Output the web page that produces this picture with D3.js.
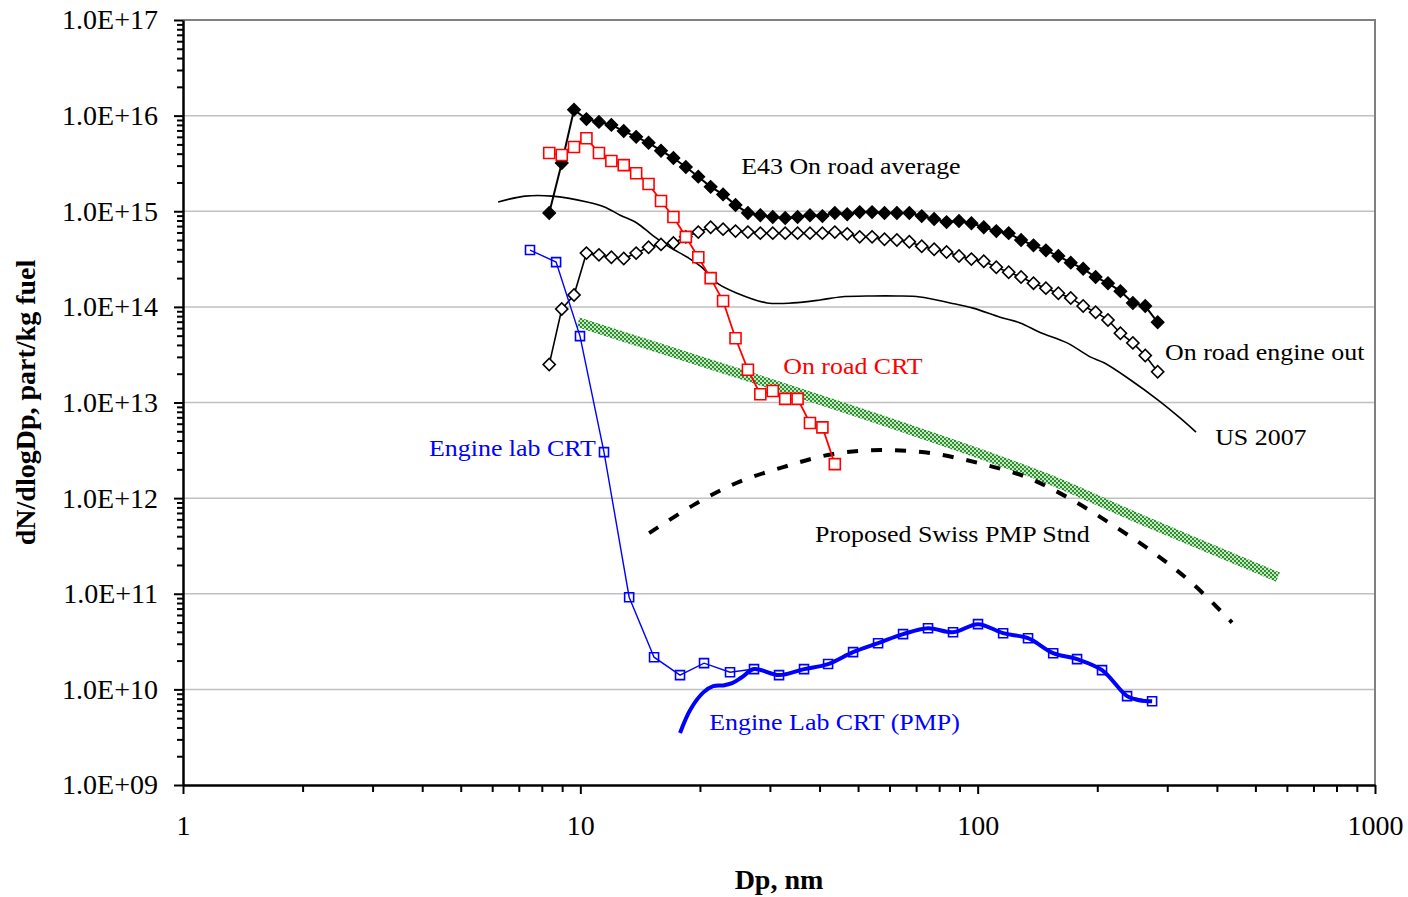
<!DOCTYPE html>
<html>
<head>
<meta charset="utf-8">
<script src="https://cdn.jsdelivr.net/npm/d3@7"></script>
<style>
	body { margin: 0; background: #fff; }
	svg text { font-family: "Liberation Serif", "Times New Roman", serif; }
</style>
</head>
<body>
<svg id="chart"></svg>
<script>
// SMPS channels (32 per decade) shared by the two on-road black series and the CRT one
var dpSmps = [8.35, 8.98, 9.64, 10.36, 11.14, 11.97, 12.86, 13.82, 14.85, 15.96,
	17.15, 18.43, 19.81, 21.28, 22.87, 24.58, 26.41, 28.38, 30.50, 32.78,
	35.22, 37.84, 40.67, 43.70, 46.96, 50.47, 54.23, 58.28, 62.62, 67.30,
	72.31, 77.71, 83.51, 89.74, 96.43, 103.6, 111.4, 119.7, 128.6, 138.2,
	148.5, 159.6, 171.5, 184.3, 198.1, 212.8, 228.7, 245.8, 264.1, 283.8];

var e43Average = [9.6e14, 3.2e15, 1.15e16, 9.2e15, 8.6e15, 8.0e15, 6.9e15, 6.0e15, 5.2e15, 4.3e15,
	3.6e15, 2.9e15, 2.3e15, 1.8e15, 1.5e15, 1.16e15, 9.6e14, 9.1e14, 8.7e14, 8.5e14,
	8.7e14, 9.1e14, 8.9e14, 9.6e14, 9.3e14, 9.8e14, 9.8e14, 9.6e14, 9.6e14, 9.6e14,
	8.9e14, 8.3e14, 7.7e14, 7.9e14, 7.5e14, 6.8e14, 6.2e14, 5.9e14, 5.0e14, 4.4e14,
	3.9e14, 3.4e14, 2.9e14, 2.5e14, 2.05e14, 1.77e14, 1.46e14, 1.10e14, 1.02e14, 6.9e13];

var engineOut = [2.5e13, 9.5e13, 1.33e14, 3.65e14, 3.5e14, 3.3e14, 3.2e14, 3.65e14, 4.2e14, 4.5e14,
	4.65e14, 5.4e14, 6.05e14, 6.8e14, 6.5e14, 6.2e14, 6.05e14, 5.9e14, 5.9e14, 5.9e14,
	5.9e14, 5.9e14, 5.9e14, 6.05e14, 5.8e14, 5.4e14, 5.4e14, 5.1e14, 5.0e14, 4.8e14,
	4.3e14, 4.0e14, 3.75e14, 3.4e14, 3.16e14, 3.0e14, 2.6e14, 2.3e14, 2.05e14, 1.77e14,
	1.57e14, 1.39e14, 1.24e14, 1.02e14, 8.8e13, 7.3e13, 5.3e13, 4.2e13, 3.1e13, 2.1e13];

var onRoadCrt = [4.06e15, 3.87e15, 4.7e15, 5.8e15, 4.06e15, 3.35e15, 3.04e15, 2.5e15, 1.93e15, 1.28e15,
	8.7e14, 5.4e14, 3.3e14, 2.0e14, 1.15e14, 4.7e13, 2.2e13, 1.22e13, 1.32e13, 1.09e13,
	1.09e13, 6.1e12, 5.5e12, 2.27e12];

// engine lab, 16 channels per decade
var dpLab = [7.47, 8.69, 9.98, 11.47, 13.27, 15.33, 17.82, 20.48, 23.81, 27.36,
	31.63, 36.56, 42.03, 48.58, 56.15, 64.9, 75.0, 86.7, 100.2, 115.9,
	133.9, 154.9, 177.9, 205.6, 237.7, 274.8];
var labCrt = [3.93e14, 2.94e14, 4.95e13, 3.03e12, 9.2e10, 2.17e10, 1.41e10, 1.88e10, 1.51e10, 1.63e10,
	1.41e10, 1.63e10, 1.84e10, 2.45e10, 3.04e10, 3.78e10, 4.36e10, 3.96e10, 4.81e10, 3.87e10,
	3.43e10, 2.39e10, 2.07e10, 1.59e10, 8.5e9, 7.5e9];

var dpPmp = [17.82, 18.9, 20.4, 21.6, 22.9, 24.1, 25.5, 27.36, 31.63, 36.56,
	42.03, 48.58, 56.15, 64.9, 75.0, 86.7, 100.2, 115.9, 133.9, 154.9,
	177.9, 205.6, 237.7, 255.0, 274.8];
var pmpCrt = [3.5e9, 6.1e9, 9.3e9, 1.08e10, 1.1e10, 1.16e10, 1.34e10, 1.63e10, 1.41e10, 1.63e10,
	1.84e10, 2.45e10, 3.04e10, 3.78e10, 4.36e10, 3.96e10, 4.81e10, 3.87e10, 3.43e10, 2.39e10,
	2.07e10, 1.59e10, 8.5e9, 7.7e9, 7.5e9];

var dpUs2007 = [6.21, 7.26, 8.49, 10.4, 11.5, 12.6, 13.9, 15.2, 16.8, 18.6,
	20.2, 22.1, 24.8, 29.5, 34.3, 40.1, 45.1, 54.2, 62.7, 71.6,
	85.2, 97.4, 113.9, 127.9, 143.6, 167.9, 191.9, 208, 243, 284.5,
	323, 354.5];
var us2007 = [1.25e15, 1.44e15, 1.44e15, 1.25e15, 1.11e15, 9.1e14, 7.5e14, 5.6e14, 4.2e14, 3.3e14,
	2.6e14, 1.77e14, 1.39e14, 1.10e14, 1.10e14, 1.18e14, 1.27e14, 1.30e14, 1.30e14, 1.27e14,
	1.10e14, 9.7e13, 7.8e13, 6.8e13, 5.4e13, 4.2e13, 3.0e13, 2.6e13, 1.71e13, 1.06e13,
	6.9e12, 4.9e12];

var dpSwiss = [14.9, 19.3, 24.7, 32.4, 43.0, 57.1, 75.9, 100.8, 132.4, 169.8, 219.2, 278, 346.5, 436.7];
var swissStd = [4.3e11, 8.5e11, 1.44e12, 2.11e12, 2.88e12, 3.18e12, 2.96e12, 2.32e12, 1.66e12, 1.0e12,
	5.2e11, 2.66e11, 1.29e11, 5.0e10];

var dpGreen = [9.87, 24.4, 68.4, 148.6, 250.4, 570];
var greenLine = [6.9e13, 2.08e13, 5.1e12, 1.62e12, 6.3e11, 1.49e11];

var xTickLabels = ["1", "10", "100", "1000"];
var yDecades = [9, 10, 11, 12, 13, 14, 15, 16, 17];

// annotations: [text, dp, value, colour]
var labels = [
	["E43 On road average", 25.4, 2.45e15, "#000"],
	["On road engine out", 296.3, 2.78e13, "#000"],
	["US 2007", 396, 3.58e12, "#000"],
	["On road CRT", 32.4, 1.98e13, "#f00"],
	["Engine lab CRT", 4.16, 2.75e12, "#00f"],
	["Proposed Swiss PMP Stnd", 38.96, 3.47e11, "#000"],
	["Engine Lab CRT (PMP)", 21.1, 3.74e9, "#00f"]
];

var width = 1408, height = 897;
var margin = {top: 20, right: 33, bottom: 112, left: 183};

var svg = d3.select("#chart").attr("width", width).attr("height", height);

var x = d3.scaleLog().domain([1, 1000]).range([margin.left, width - margin.right]);
var y = d3.scaleLog().domain([1e9, 1e17]).range([height - margin.bottom, margin.top]);

function zipXY(xs, ys) { return xs.map(function(d, i) { return [d, ys[i]]; }); }

// green checkered fill for the thick line
var pat = svg.append("defs").append("pattern")
	.attr("id", "checker").attr("patternUnits", "userSpaceOnUse")
	.attr("width", 4).attr("height", 4);
pat.append("rect").attr("width", 4).attr("height", 4).attr("fill", "#2f8f2f");
pat.append("rect").attr("width", 2).attr("height", 2).attr("fill", "#c4e8c4");
pat.append("rect").attr("x", 2).attr("y", 2).attr("width", 2).attr("height", 2).attr("fill", "#c4e8c4");

// grid
svg.append("g").selectAll("line")
	.data(yDecades.slice(1, -1))
	.join("line")
	.attr("x1", x(1)).attr("x2", x(1000))
	.attr("y1", function(d) { return y(Math.pow(10, d)); })
	.attr("y2", function(d) { return y(Math.pow(10, d)); })
	.attr("stroke", "#c0c0c0").attr("stroke-width", 1.5);

svg.append("path")
	.attr("d", "M" + x(1) + "," + y(1e17) + "H" + x(1000) + "V" + y(1e9))
	.attr("fill", "none").attr("stroke", "#808080").attr("stroke-width", 2);

// axes
var yTicks = [];
yDecades.forEach(function(e) {
	for (var m = 1; m <= 9; m++) if (e < 17 || m == 1) yTicks.push(m * Math.pow(10, e));
});
var xTicks = [];
[0, 1, 2, 3].forEach(function(e) {
	for (var m = 1; m <= 9; m++) if (e < 3 || m == 1) xTicks.push(m * Math.pow(10, e));
});
function isMajor(v) { var l = Math.log10(v); return Math.abs(l - Math.round(l)) < 1e-9; }

var yAxis = svg.append("g")
	.attr("transform", "translate(" + margin.left + ",0)")
	.call(d3.axisLeft(y).tickValues(yTicks).tickSizeOuter(0)
		.tickFormat(function(d) {
			return isMajor(d) ? "1.0E+" + String(Math.round(Math.log10(d))).padStart(2, "0") : "";
		}));
yAxis.selectAll(".tick line").attr("x2", function(d) { return isMajor(d) ? -9 : -6; }).attr("stroke-width", 2);
yAxis.selectAll(".tick text").attr("x", -25).attr("font-size", 28).attr("font-family", "Liberation Serif").attr("fill", "#000");
yAxis.select(".domain").attr("stroke-width", 2.5);

var xAxis = svg.append("g")
	.attr("transform", "translate(0," + (height - margin.bottom) + ")")
	.call(d3.axisBottom(x).tickValues(xTicks).tickSizeOuter(0)
		.tickFormat(function(d) { return isMajor(d) ? xTickLabels[Math.round(Math.log10(d))] : ""; }));
xAxis.selectAll(".tick line").attr("y2", function(d) { return isMajor(d) ? 9 : 7; }).attr("stroke-width", 2);
xAxis.selectAll(".tick text").attr("y", 30).attr("font-size", 28).attr("font-family", "Liberation Serif").attr("fill", "#000");
xAxis.select(".domain").attr("stroke-width", 2.5);

svg.append("text")
	.attr("x", x(Math.sqrt(1000))).attr("y", 889)
	.attr("text-anchor", "middle").attr("font-size", 28).attr("font-weight", "bold")
	.text("Dp, nm");
svg.append("text")
	.attr("transform", "translate(35," + y(1e13) + ") rotate(-90)")
	.attr("text-anchor", "middle").attr("font-size", 28).attr("font-weight", "bold")
	.text("dN/dlogDp, part/kg fuel");

// series
var line = d3.line().x(function(d) { return x(d[0]); }).y(function(d) { return y(d[1]); });
var smooth = d3.line().curve(d3.curveCatmullRom).x(function(d) { return x(d[0]); }).y(function(d) { return y(d[1]); });
var plot = svg.append("g");

plot.append("path").attr("d", smooth(zipXY(dpGreen, greenLine)))
	.attr("fill", "none").attr("stroke", "url(#checker)").attr("stroke-width", 10);

plot.append("path").attr("d", smooth(zipXY(dpSwiss, swissStd)))
	.attr("fill", "none").attr("stroke", "#000").attr("stroke-width", 4)
	.attr("stroke-dasharray", "11,13");

plot.append("path").attr("d", smooth(zipXY(dpUs2007, us2007)))
	.attr("fill", "none").attr("stroke", "#000").attr("stroke-width", 1.6);

function markerSeries(xs, ys, opt) {
	var pts = zipXY(xs, ys);
	var g = plot.append("g");
	g.append("path").attr("d", line(pts)).attr("fill", "none")
		.attr("stroke", opt.color).attr("stroke-width", opt.lw);
	g.selectAll("path.m").data(pts).join("path").attr("class", "m")
		.attr("transform", function(d) { return "translate(" + x(d[0]) + "," + y(d[1]) + ")" + (opt.rotate ? " rotate(45)" : ""); })
		.attr("d", function() { return "M" + (-opt.s) + "," + (-opt.s) + "h" + 2 * opt.s + "v" + 2 * opt.s + "h" + (-2 * opt.s) + "Z"; })
		.attr("fill", opt.fill).attr("stroke", opt.color).attr("stroke-width", opt.mw);
}

markerSeries(dpSmps, engineOut, {color: "#000", lw: 1.6, fill: "#fff", rotate: true, s: 4.3, mw: 1.6});
markerSeries(dpSmps, e43Average, {color: "#000", lw: 2, fill: "#000", rotate: true, s: 4.5, mw: 1.2});
markerSeries(dpSmps.slice(0, onRoadCrt.length), onRoadCrt, {color: "#f00", lw: 1.8, fill: "#fff", rotate: false, s: 5.5, mw: 1.6});

plot.append("path").attr("d", smooth(zipXY(dpPmp, pmpCrt)))
	.attr("fill", "none").attr("stroke", "#00f").attr("stroke-width", 4);
markerSeries(dpLab, labCrt, {color: "#00f", lw: 1.4, fill: "none", rotate: false, s: 4.5, mw: 1.6});

// annotations, a little wider than the plain serif face
svg.append("g").selectAll("text")
	.data(labels)
	.join("text")
	.attr("transform", function(d) { return "translate(" + x(d[1]) + "," + y(d[2]) + ") scale(1.08,1)"; })
	.attr("font-size", 24)
	.attr("fill", function(d) { return d[3]; })
	.text(function(d) { return d[0]; });
</script>
</body>
</html>
